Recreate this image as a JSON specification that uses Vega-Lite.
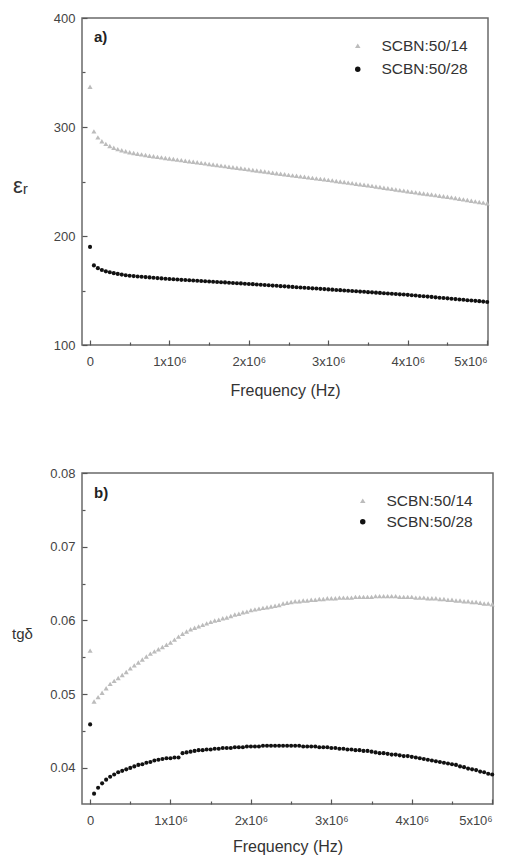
{
"$schema": "https://vega.github.io/schema/vega-lite/v6.json",
"autosize": {"type": "none"},
"padding": {"left": 82, "top": 18, "right": 428, "bottom": 839},
"background": "white",
"config": {
 "font": "Liberation Sans",
 "view": {"stroke": "#6a6a6a", "strokeWidth": 1.5},
 "axis": {"domain": false, "grid": false, "labelFont": "Liberation Sans", "labelFontSize": 13, "labelColor": "#444", "titleFont": "Liberation Sans", "titleFontSize": 16, "titleColor": "#333", "titleFontWeight": "normal", "tickColor": "#555", "tickWidth": 1.2},
 "legend": {"labelFont": "Liberation Sans", "labelFontSize": 15.5, "labelColor": "#333", "symbolSize": 30, "labelOffset": 16, "orient": "top-right", "offset": 20, "padding": 0, "symbolStrokeWidth": 0}
},
"data": {"values": [
{"f":1000,"s":"SCBN:50/14","e":337,"t":0.0559},
{"f":50000,"s":"SCBN:50/14","e":296,"t":0.0490},
{"f":100000,"s":"SCBN:50/14","e":290.5,"t":0.0496},
{"f":150000,"s":"SCBN:50/14","e":287,"t":0.0502},
{"f":200000,"s":"SCBN:50/14","e":284.5,"t":0.0508},
{"f":250000,"s":"SCBN:50/14","e":282.5,"t":0.0514},
{"f":300000,"s":"SCBN:50/14","e":281,"t":0.0518},
{"f":350000,"s":"SCBN:50/14","e":279.7,"t":0.0522},
{"f":400000,"s":"SCBN:50/14","e":278.6,"t":0.0526},
{"f":450000,"s":"SCBN:50/14","e":277.7,"t":0.0530},
{"f":500000,"s":"SCBN:50/14","e":276.9,"t":0.0535},
{"f":550000,"s":"SCBN:50/14","e":276.2,"t":0.0539},
{"f":600000,"s":"SCBN:50/14","e":275.5,"t":0.0543},
{"f":650000,"s":"SCBN:50/14","e":274.9,"t":0.0547},
{"f":700000,"s":"SCBN:50/14","e":274.3,"t":0.0551},
{"f":750000,"s":"SCBN:50/14","e":273.7,"t":0.0555},
{"f":800000,"s":"SCBN:50/14","e":273.2,"t":0.0558},
{"f":850000,"s":"SCBN:50/14","e":272.6,"t":0.0561},
{"f":900000,"s":"SCBN:50/14","e":272.1,"t":0.0564},
{"f":950000,"s":"SCBN:50/14","e":271.6,"t":0.0567},
{"f":1000000,"s":"SCBN:50/14","e":271.1,"t":0.0570},
{"f":1050000,"s":"SCBN:50/14","e":270.6,"t":0.0574},
{"f":1100000,"s":"SCBN:50/14","e":270.1,"t":0.0578},
{"f":1150000,"s":"SCBN:50/14","e":269.6,"t":0.0582},
{"f":1200000,"s":"SCBN:50/14","e":269.1,"t":0.0585},
{"f":1250000,"s":"SCBN:50/14","e":268.6,"t":0.0588},
{"f":1300000,"s":"SCBN:50/14","e":268.1,"t":0.0590},
{"f":1350000,"s":"SCBN:50/14","e":267.6,"t":0.0592},
{"f":1400000,"s":"SCBN:50/14","e":267.1,"t":0.0594},
{"f":1450000,"s":"SCBN:50/14","e":266.6,"t":0.0596},
{"f":1500000,"s":"SCBN:50/14","e":266.1,"t":0.0598},
{"f":1550000,"s":"SCBN:50/14","e":265.6,"t":0.0600},
{"f":1600000,"s":"SCBN:50/14","e":265.1,"t":0.0601},
{"f":1650000,"s":"SCBN:50/14","e":264.6,"t":0.0603},
{"f":1700000,"s":"SCBN:50/14","e":264.1,"t":0.0604},
{"f":1750000,"s":"SCBN:50/14","e":263.6,"t":0.0606},
{"f":1800000,"s":"SCBN:50/14","e":263.1,"t":0.0608},
{"f":1850000,"s":"SCBN:50/14","e":262.6,"t":0.0609},
{"f":1900000,"s":"SCBN:50/14","e":262.1,"t":0.0611},
{"f":1950000,"s":"SCBN:50/14","e":261.6,"t":0.0612},
{"f":2000000,"s":"SCBN:50/14","e":261.1,"t":0.0614},
{"f":2050000,"s":"SCBN:50/14","e":260.6,"t":0.0615},
{"f":2100000,"s":"SCBN:50/14","e":260.1,"t":0.0616},
{"f":2150000,"s":"SCBN:50/14","e":259.6,"t":0.0617},
{"f":2200000,"s":"SCBN:50/14","e":259.1,"t":0.0618},
{"f":2250000,"s":"SCBN:50/14","e":258.6,"t":0.0619},
{"f":2300000,"s":"SCBN:50/14","e":258.1,"t":0.0620},
{"f":2350000,"s":"SCBN:50/14","e":257.6,"t":0.0621},
{"f":2400000,"s":"SCBN:50/14","e":257.1,"t":0.0623},
{"f":2450000,"s":"SCBN:50/14","e":256.6,"t":0.0624},
{"f":2500000,"s":"SCBN:50/14","e":256.1,"t":0.0625},
{"f":2550000,"s":"SCBN:50/14","e":255.6,"t":0.0626},
{"f":2600000,"s":"SCBN:50/14","e":255.2,"t":0.0626},
{"f":2650000,"s":"SCBN:50/14","e":254.7,"t":0.0627},
{"f":2700000,"s":"SCBN:50/14","e":254.3,"t":0.0627},
{"f":2750000,"s":"SCBN:50/14","e":253.8,"t":0.0628},
{"f":2800000,"s":"SCBN:50/14","e":253.3,"t":0.0628},
{"f":2850000,"s":"SCBN:50/14","e":252.9,"t":0.0629},
{"f":2900000,"s":"SCBN:50/14","e":252.4,"t":0.0629},
{"f":2950000,"s":"SCBN:50/14","e":252,"t":0.0630},
{"f":3000000,"s":"SCBN:50/14","e":251.5,"t":0.0630},
{"f":3050000,"s":"SCBN:50/14","e":251,"t":0.0630},
{"f":3100000,"s":"SCBN:50/14","e":250.5,"t":0.0631},
{"f":3150000,"s":"SCBN:50/14","e":250,"t":0.0631},
{"f":3200000,"s":"SCBN:50/14","e":249.5,"t":0.0631},
{"f":3250000,"s":"SCBN:50/14","e":249,"t":0.0631},
{"f":3300000,"s":"SCBN:50/14","e":248.5,"t":0.0632},
{"f":3350000,"s":"SCBN:50/14","e":248,"t":0.0632},
{"f":3400000,"s":"SCBN:50/14","e":247.5,"t":0.0632},
{"f":3450000,"s":"SCBN:50/14","e":247,"t":0.0632},
{"f":3500000,"s":"SCBN:50/14","e":246.5,"t":0.0632},
{"f":3550000,"s":"SCBN:50/14","e":246,"t":0.0633},
{"f":3600000,"s":"SCBN:50/14","e":245.4,"t":0.0633},
{"f":3650000,"s":"SCBN:50/14","e":244.9,"t":0.0633},
{"f":3700000,"s":"SCBN:50/14","e":244.3,"t":0.0633},
{"f":3750000,"s":"SCBN:50/14","e":243.8,"t":0.0633},
{"f":3800000,"s":"SCBN:50/14","e":243.2,"t":0.0633},
{"f":3850000,"s":"SCBN:50/14","e":242.7,"t":0.0632},
{"f":3900000,"s":"SCBN:50/14","e":242.1,"t":0.0632},
{"f":3950000,"s":"SCBN:50/14","e":241.6,"t":0.0632},
{"f":4000000,"s":"SCBN:50/14","e":241,"t":0.0632},
{"f":4050000,"s":"SCBN:50/14","e":240.5,"t":0.0631},
{"f":4100000,"s":"SCBN:50/14","e":240,"t":0.0631},
{"f":4150000,"s":"SCBN:50/14","e":239.5,"t":0.0631},
{"f":4200000,"s":"SCBN:50/14","e":239,"t":0.0630},
{"f":4250000,"s":"SCBN:50/14","e":238.5,"t":0.0630},
{"f":4300000,"s":"SCBN:50/14","e":238,"t":0.0630},
{"f":4350000,"s":"SCBN:50/14","e":237.5,"t":0.0629},
{"f":4400000,"s":"SCBN:50/14","e":237,"t":0.0629},
{"f":4450000,"s":"SCBN:50/14","e":236.5,"t":0.0628},
{"f":4500000,"s":"SCBN:50/14","e":236,"t":0.0628},
{"f":4550000,"s":"SCBN:50/14","e":235.4,"t":0.0627},
{"f":4600000,"s":"SCBN:50/14","e":234.8,"t":0.0627},
{"f":4650000,"s":"SCBN:50/14","e":234.2,"t":0.0626},
{"f":4700000,"s":"SCBN:50/14","e":233.6,"t":0.0626},
{"f":4750000,"s":"SCBN:50/14","e":233,"t":0.0625},
{"f":4800000,"s":"SCBN:50/14","e":232.4,"t":0.0625},
{"f":4850000,"s":"SCBN:50/14","e":231.8,"t":0.0624},
{"f":4900000,"s":"SCBN:50/14","e":231.2,"t":0.0623},
{"f":4950000,"s":"SCBN:50/14","e":230.6,"t":0.0623},
{"f":5000000,"s":"SCBN:50/14","e":230,"t":0.0622},
{"f":1000,"s":"SCBN:50/28","e":190,"t":0.0459},
{"f":50000,"s":"SCBN:50/28","e":173,"t":0.0365},
{"f":100000,"s":"SCBN:50/28","e":170.5,"t":0.0373},
{"f":150000,"s":"SCBN:50/28","e":168.8,"t":0.0379},
{"f":200000,"s":"SCBN:50/28","e":167.6,"t":0.0384},
{"f":250000,"s":"SCBN:50/28","e":166.7,"t":0.0388},
{"f":300000,"s":"SCBN:50/28","e":165.9,"t":0.0391},
{"f":350000,"s":"SCBN:50/28","e":165.2,"t":0.0394},
{"f":400000,"s":"SCBN:50/28","e":164.6,"t":0.0396},
{"f":450000,"s":"SCBN:50/28","e":164,"t":0.0398},
{"f":500000,"s":"SCBN:50/28","e":163.5,"t":0.0400},
{"f":550000,"s":"SCBN:50/28","e":163.2,"t":0.0402},
{"f":600000,"s":"SCBN:50/28","e":162.9,"t":0.0404},
{"f":650000,"s":"SCBN:50/28","e":162.6,"t":0.0405},
{"f":700000,"s":"SCBN:50/28","e":162.3,"t":0.0407},
{"f":750000,"s":"SCBN:50/28","e":162,"t":0.0408},
{"f":800000,"s":"SCBN:50/28","e":161.7,"t":0.0410},
{"f":850000,"s":"SCBN:50/28","e":161.4,"t":0.0411},
{"f":900000,"s":"SCBN:50/28","e":161.1,"t":0.0412},
{"f":950000,"s":"SCBN:50/28","e":160.8,"t":0.0413},
{"f":1000000,"s":"SCBN:50/28","e":160.5,"t":0.0413},
{"f":1050000,"s":"SCBN:50/28","e":160.3,"t":0.0414},
{"f":1100000,"s":"SCBN:50/28","e":160.1,"t":0.0414},
{"f":1150000,"s":"SCBN:50/28","e":159.8,"t":0.0420},
{"f":1200000,"s":"SCBN:50/28","e":159.6,"t":0.0421},
{"f":1250000,"s":"SCBN:50/28","e":159.4,"t":0.0422},
{"f":1300000,"s":"SCBN:50/28","e":159.2,"t":0.0423},
{"f":1350000,"s":"SCBN:50/28","e":158.9,"t":0.0424},
{"f":1400000,"s":"SCBN:50/28","e":158.7,"t":0.0424},
{"f":1450000,"s":"SCBN:50/28","e":158.5,"t":0.0425},
{"f":1500000,"s":"SCBN:50/28","e":158.3,"t":0.0425},
{"f":1550000,"s":"SCBN:50/28","e":158,"t":0.0426},
{"f":1600000,"s":"SCBN:50/28","e":157.8,"t":0.0426},
{"f":1650000,"s":"SCBN:50/28","e":157.6,"t":0.0427},
{"f":1700000,"s":"SCBN:50/28","e":157.4,"t":0.0427},
{"f":1750000,"s":"SCBN:50/28","e":157.1,"t":0.0427},
{"f":1800000,"s":"SCBN:50/28","e":156.9,"t":0.0428},
{"f":1850000,"s":"SCBN:50/28","e":156.7,"t":0.0428},
{"f":1900000,"s":"SCBN:50/28","e":156.5,"t":0.0428},
{"f":1950000,"s":"SCBN:50/28","e":156.2,"t":0.0429},
{"f":2000000,"s":"SCBN:50/28","e":156,"t":0.0429},
{"f":2050000,"s":"SCBN:50/28","e":155.8,"t":0.0429},
{"f":2100000,"s":"SCBN:50/28","e":155.5,"t":0.0429},
{"f":2150000,"s":"SCBN:50/28","e":155.3,"t":0.0430},
{"f":2200000,"s":"SCBN:50/28","e":155,"t":0.0430},
{"f":2250000,"s":"SCBN:50/28","e":154.8,"t":0.0430},
{"f":2300000,"s":"SCBN:50/28","e":154.5,"t":0.0430},
{"f":2350000,"s":"SCBN:50/28","e":154.3,"t":0.0430},
{"f":2400000,"s":"SCBN:50/28","e":154,"t":0.0430},
{"f":2450000,"s":"SCBN:50/28","e":153.8,"t":0.0430},
{"f":2500000,"s":"SCBN:50/28","e":153.5,"t":0.0430},
{"f":2550000,"s":"SCBN:50/28","e":153.3,"t":0.0430},
{"f":2600000,"s":"SCBN:50/28","e":153,"t":0.0430},
{"f":2650000,"s":"SCBN:50/28","e":152.8,"t":0.0429},
{"f":2700000,"s":"SCBN:50/28","e":152.5,"t":0.0429},
{"f":2750000,"s":"SCBN:50/28","e":152.3,"t":0.0429},
{"f":2800000,"s":"SCBN:50/28","e":152,"t":0.0429},
{"f":2850000,"s":"SCBN:50/28","e":151.8,"t":0.0428},
{"f":2900000,"s":"SCBN:50/28","e":151.5,"t":0.0428},
{"f":2950000,"s":"SCBN:50/28","e":151.3,"t":0.0428},
{"f":3000000,"s":"SCBN:50/28","e":151,"t":0.0427},
{"f":3050000,"s":"SCBN:50/28","e":150.8,"t":0.0427},
{"f":3100000,"s":"SCBN:50/28","e":150.5,"t":0.0426},
{"f":3150000,"s":"SCBN:50/28","e":150.3,"t":0.0426},
{"f":3200000,"s":"SCBN:50/28","e":150,"t":0.0425},
{"f":3250000,"s":"SCBN:50/28","e":149.8,"t":0.0425},
{"f":3300000,"s":"SCBN:50/28","e":149.5,"t":0.0424},
{"f":3350000,"s":"SCBN:50/28","e":149.3,"t":0.0424},
{"f":3400000,"s":"SCBN:50/28","e":149,"t":0.0423},
{"f":3450000,"s":"SCBN:50/28","e":148.8,"t":0.0423},
{"f":3500000,"s":"SCBN:50/28","e":148.5,"t":0.0422},
{"f":3550000,"s":"SCBN:50/28","e":148.3,"t":0.0421},
{"f":3600000,"s":"SCBN:50/28","e":148,"t":0.0420},
{"f":3650000,"s":"SCBN:50/28","e":147.8,"t":0.0420},
{"f":3700000,"s":"SCBN:50/28","e":147.5,"t":0.0419},
{"f":3750000,"s":"SCBN:50/28","e":147.3,"t":0.0418},
{"f":3800000,"s":"SCBN:50/28","e":147,"t":0.0418},
{"f":3850000,"s":"SCBN:50/28","e":146.8,"t":0.0417},
{"f":3900000,"s":"SCBN:50/28","e":146.5,"t":0.0416},
{"f":3950000,"s":"SCBN:50/28","e":146.3,"t":0.0416},
{"f":4000000,"s":"SCBN:50/28","e":146,"t":0.0415},
{"f":4050000,"s":"SCBN:50/28","e":145.7,"t":0.0414},
{"f":4100000,"s":"SCBN:50/28","e":145.4,"t":0.0413},
{"f":4150000,"s":"SCBN:50/28","e":145,"t":0.0412},
{"f":4200000,"s":"SCBN:50/28","e":144.7,"t":0.0411},
{"f":4250000,"s":"SCBN:50/28","e":144.4,"t":0.0410},
{"f":4300000,"s":"SCBN:50/28","e":144.1,"t":0.0409},
{"f":4350000,"s":"SCBN:50/28","e":143.7,"t":0.0408},
{"f":4400000,"s":"SCBN:50/28","e":143.4,"t":0.0407},
{"f":4450000,"s":"SCBN:50/28","e":143.1,"t":0.0406},
{"f":4500000,"s":"SCBN:50/28","e":142.8,"t":0.0405},
{"f":4550000,"s":"SCBN:50/28","e":142.4,"t":0.0404},
{"f":4600000,"s":"SCBN:50/28","e":142.1,"t":0.0402},
{"f":4650000,"s":"SCBN:50/28","e":141.8,"t":0.0401},
{"f":4700000,"s":"SCBN:50/28","e":141.5,"t":0.0399},
{"f":4750000,"s":"SCBN:50/28","e":141.1,"t":0.0398},
{"f":4800000,"s":"SCBN:50/28","e":140.8,"t":0.0397},
{"f":4850000,"s":"SCBN:50/28","e":140.5,"t":0.0395},
{"f":4900000,"s":"SCBN:50/28","e":140.2,"t":0.0394},
{"f":4950000,"s":"SCBN:50/28","e":139.8,"t":0.0392},
{"f":5000000,"s":"SCBN:50/28","e":139.5,"t":0.0391}
]},
"spacing": 128,
"bounds": "flush",
"resolve": {"scale": {"color": "independent", "shape": "independent"}, "legend": {"color": "independent", "shape": "independent"}},
"vconcat": [
 {
  "width": 406, "height": 327,
  "layer": [
   {
    "mark": {"type": "point", "filled": true, "opacity": 1},
    "encoding": {
     "x": {"field": "f", "type": "quantitative", "scale": {"domain": [-100000, 5010000], "nice": false},
       "axis": {"title": "Frequency (Hz)", "values": [0,500000,1000000,1500000,2000000,2500000,3000000,3500000,4000000,4500000,5000000],
         "labelExpr": "datum.value % 1000000 === 0 ? (datum.value === 0 ? '0' : (datum.value/1000000) + 'x10\u2076') : ''",
         "tickSize": {"condition": {"test": "datum.value % 1000000 === 0", "value": -5}, "value": -3},
         "labelPadding": 15, "titlePadding": 14}},
     "y": {"field": "e", "type": "quantitative", "scale": {"domain": [100, 400], "nice": false, "zero": false},
       "axis": {"title": "\u03b5\u1d63", "titleAngle": 0, "titleFontSize": 22, "titleX": -62, "titleY": 167, "titleAlign": "center", "titleBaseline": "middle",
         "values": [100,150,200,250,300,350,400],
         "labelExpr": "datum.value % 100 === 0 ? datum.label : ''",
         "tickSize": {"condition": {"test": "datum.value % 100 === 0", "value": -5}, "value": -3},
         "labelPadding": 12}},
     "color": {"field": "s", "type": "nominal", "scale": {"domain": ["SCBN:50/14", "SCBN:50/28"], "range": ["#bcbcbc", "#111111"]}, "legend": {"title": null, "rowPadding": 6.5}},
     "shape": {"field": "s", "type": "nominal", "scale": {"domain": ["SCBN:50/14", "SCBN:50/28"], "range": ["triangle-up", "circle"]}, "legend": {"title": null, "rowPadding": 6.5}},
     "size": {"condition": {"test": "datum.s === 'SCBN:50/14'", "value": 26}, "value": 17}
    }
   },
   {
    "data": {"values": [{}]},
    "mark": {"type": "text", "align": "left", "baseline": "middle", "fontWeight": "bold", "fontSize": 15, "color": "#222"},
    "encoding": {"x": {"datum": 50000, "type": "quantitative"}, "y": {"datum": 383, "type": "quantitative"}, "text": {"value": "a)"}}
   }
  ]
 },
 {
  "width": 411, "height": 331,
  "layer": [
   {
    "mark": {"type": "point", "filled": true, "opacity": 1},
    "encoding": {
     "x": {"field": "f", "type": "quantitative", "scale": {"domain": [-100000, 5010000], "nice": false},
       "axis": {"title": "Frequency (Hz)", "values": [0,500000,1000000,1500000,2000000,2500000,3000000,3500000,4000000,4500000,5000000],
         "labelExpr": "datum.value % 1000000 === 0 ? (datum.value === 0 ? '0' : (datum.value/1000000) + 'x10\u2076') : ''",
         "tickSize": {"condition": {"test": "datum.value % 1000000 === 0", "value": -5}, "value": -3},
         "labelPadding": 15, "titlePadding": 11}},
     "y": {"field": "t", "type": "quantitative", "scale": {"domain": [0.0351, 0.08], "nice": false, "zero": false},
       "axis": {"title": "tg\u03b4", "titleAngle": 0, "titleFontSize": 15, "titleX": -60, "titleY": 160, "titleAlign": "center", "titleBaseline": "middle",
         "values": [0.04,0.045,0.05,0.055,0.06,0.065,0.07,0.075,0.08],
         "labelExpr": "round(datum.value*1000) % 10 === 0 ? format(datum.value, '.2f') : ''",
         "tickSize": {"condition": {"test": "round(datum.value*1000) % 10 === 0", "value": -5}, "value": -3},
         "labelPadding": 12}},
     "color": {"field": "s", "type": "nominal", "scale": {"domain": ["SCBN:50/14", "SCBN:50/28"], "range": ["#bcbcbc", "#111111"]}, "legend": {"title": null, "rowPadding": 4}},
     "shape": {"field": "s", "type": "nominal", "scale": {"domain": ["SCBN:50/14", "SCBN:50/28"], "range": ["triangle-up", "circle"]}, "legend": {"title": null, "rowPadding": 4}},
     "size": {"condition": {"test": "datum.s === 'SCBN:50/14'", "value": 26}, "value": 17}
    }
   },
   {
    "data": {"values": [{}]},
    "mark": {"type": "text", "align": "left", "baseline": "middle", "fontWeight": "bold", "fontSize": 15, "color": "#222"},
    "encoding": {"x": {"datum": 50000, "type": "quantitative"}, "y": {"datum": 0.0773, "type": "quantitative"}, "text": {"value": "b)"}}
   }
  ]
 }
]
}
